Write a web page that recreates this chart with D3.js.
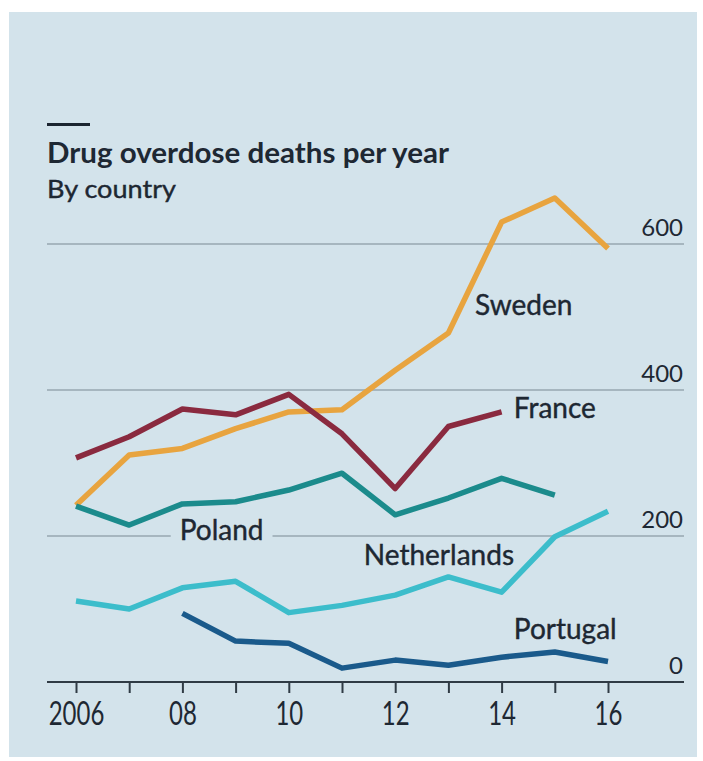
<!DOCTYPE html>
<html>
<head>
<meta charset="utf-8">
<script src="https://cdn.jsdelivr.net/npm/d3@7"></script>
<style>
  html, body { margin: 0; padding: 0; background: #ffffff; }
  svg { display: block; }
  text { font-family: Lato, "Open Sans", sans-serif; fill: #1e2833; }
</style>
</head>
<body>
<svg id="chart" width="703" height="761"></svg>
<script>
// ---- data ----
const years = [2006, 2007, 2008, 2009, 2010, 2011, 2012, 2013, 2014, 2015, 2016];
const swedenYears = [2006, 2007, 2008, 2009, 2010, 2011, 2012, 2013, 2014, 2015, 2016];
const swedenValues = [242, 311, 320, 347, 370, 373, 427, 478, 630, 663, 594];
const franceYears = [2006, 2007, 2008, 2009, 2010, 2011, 2012, 2013, 2014];
const franceValues = [307, 336, 374, 366, 394, 340, 265, 350, 370];
const polandYears = [2006, 2007, 2008, 2009, 2010, 2011, 2012, 2013, 2014, 2015];
const polandValues = [241, 215, 244, 247, 263, 286, 229, 252, 279, 256];
const netherlandsYears = [2006, 2007, 2008, 2009, 2010, 2011, 2012, 2013, 2014, 2015, 2016];
const netherlandsValues = [111, 100, 129, 138, 95, 105, 119, 144, 123, 199, 234];
const portugalYears = [2008, 2009, 2010, 2011, 2012, 2013, 2014, 2015, 2016];
const portugalValues = [94, 56, 53, 19, 30, 23, 34, 41, 28];
const yTickValues = [0, 200, 400, 600];
const xTickLabels = ["2006", "", "08", "", "10", "", "12", "", "14", "", "16"];
const seriesNames = ["Sweden", "Poland", "France", "Netherlands", "Portugal"];

const title = "Drug overdose deaths per year";
const subtitle = "By country";

// ---- layout ----
const svg = d3.select("#chart");
const panel = { x: 9, y: 12, w: 688, h: 745 };
const gridLeft = 47, gridRight = 684;
const x = d3.scaleLinear().domain([2006, 2016]).range([76, 608]);
const y = d3.scaleLinear().domain([0, 600]).range([682, 244]);

const colors = {
  Sweden: "#e8a43f",
  France: "#8a2a3f",
  Poland: "#1b8b8c",
  Netherlands: "#3cbdcb",
  Portugal: "#1a5a8b"
};
const bg = "#d3e3eb";
const ink = "#1b2530";

const series = {
  Sweden: swedenYears.map((yr, i) => [yr, swedenValues[i]]),
  France: franceYears.map((yr, i) => [yr, franceValues[i]]),
  Poland: polandYears.map((yr, i) => [yr, polandValues[i]]),
  Netherlands: netherlandsYears.map((yr, i) => [yr, netherlandsValues[i]]),
  Portugal: portugalYears.map((yr, i) => [yr, portugalValues[i]])
};

svg.append("rect")
  .attr("x", panel.x).attr("y", panel.y)
  .attr("width", panel.w).attr("height", panel.h)
  .attr("fill", bg);

// header
svg.append("rect").attr("x", 47).attr("y", 123).attr("width", 43).attr("height", 3).attr("fill", ink);
svg.append("text").attr("x", 47).attr("y", 163)
  .attr("font-size", 28).attr("font-weight", 700)
  .attr("fill", ink)
  .attr("textLength", 402).attr("lengthAdjust", "spacingAndGlyphs")
  .text(title);
svg.append("text").attr("x", 47).attr("y", 198)
  .attr("font-size", 25.5)
  .attr("fill", ink)
  .attr("stroke", ink).attr("stroke-width", 0.4)
  .attr("textLength", 129).attr("lengthAdjust", "spacingAndGlyphs")
  .text(subtitle);

// gridlines
const grid = svg.append("g");
grid.selectAll("line")
  .data(yTickValues.filter(v => v !== 0))
  .join("line")
  .attr("x1", gridLeft).attr("x2", gridRight)
  .attr("y1", d => y(d)).attr("y2", d => y(d))
  .attr("stroke", "#a6b6bf").attr("stroke-width", 2);

// y tick labels
svg.append("g").selectAll("text")
  .data(yTickValues)
  .join("text")
  .attr("x", gridRight - 1)
  .attr("y", d => y(d) - 8)
  .attr("text-anchor", "end")
  .attr("font-size", 24)
  .attr("fill", "#2a3540")
  .text(d => d);

// x axis
const xAxis = d3.axisBottom(x)
  .tickValues(years)
  .tickSize(11)
  .tickSizeOuter(0)
  .tickFormat((d, i) => xTickLabels[i]);
const gx = svg.append("g").attr("transform", `translate(0,${y(0)})`).call(xAxis);
gx.select(".domain").remove();
gx.selectAll(".tick line").attr("stroke", "#2f3b45").attr("stroke-width", 2);
gx.selectAll(".tick text")
  .attr("font-family", "Lato, sans-serif")
  .attr("font-size", 32)
  .attr("fill", "#2a3540")
  .attr("y", 43)
  .attr("dy", 0)
  .attr("transform", "scale(0.75,1)");
svg.append("line")
  .attr("x1", gridLeft).attr("x2", gridRight)
  .attr("y1", y(0)).attr("y2", y(0))
  .attr("stroke", "#2f3b45").attr("stroke-width", 2);

// lines
const line = d3.line().x(d => x(d[0])).y(d => y(d[1]));
const drawOrder = ["Sweden", "Poland", "France", "Netherlands", "Portugal"];
svg.append("g").selectAll("path")
  .data(drawOrder)
  .join("path")
  .attr("d", name => line(series[name]))
  .attr("fill", "none")
  .attr("stroke", name => colors[name])
  .attr("stroke-width", 5.5)
  .attr("stroke-linejoin", "round")
  .attr("stroke-linecap", "butt");

// series labels (anchored in data space)
const labelAnchors = {
  Sweden: [2013.5, 503],
  France: [2014.23, 362],
  Poland: [2007.95, 194.5],
  Netherlands: [2011.41, 160],
  Portugal: [2014.23, 59]
};
const labels = svg.append("g");
seriesNames.forEach(name => {
  const [ax, ay] = labelAnchors[name];
  const t = labels.append("text")
    .attr("x", x(ax)).attr("y", y(ay))
    .attr("font-size", 28)
    .attr("fill", ink)
    .attr("stroke", ink).attr("stroke-width", 0.4)
    .text(name);
  if (name === "Poland") {
    const bb = t.node().getBBox();
    labels.insert("rect", "text")
      .attr("x", bb.x - 9).attr("y", y(200) - 3)
      .attr("width", bb.width + 18).attr("height", 6)
      .attr("fill", bg);
  }
});
</script>
</body>
</html>
